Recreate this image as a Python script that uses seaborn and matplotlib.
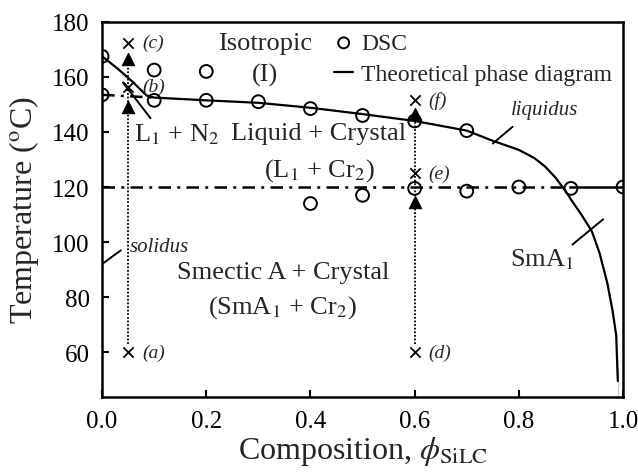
import matplotlib
matplotlib.use("Agg")
import matplotlib.pyplot as plt
import seaborn as sns
import numpy as np

# DSC measurements
dsc_x = [0.0, 0.0, 0.1, 0.1, 0.2, 0.2, 0.3, 0.4, 0.4, 0.5, 0.5, 0.6, 0.6, 0.7, 0.7, 0.8, 0.9, 1.0]
dsc_T = [167.5, 153.5, 162.5, 151.5, 162.0, 151.5, 151.0, 148.5, 114.0, 146.0, 117.0, 144.0, 119.5,
         140.5, 118.5, 120.0, 119.5, 120.0]

# theoretical liquidus / SmA boundary
liq_x = [0.0, 0.03, 0.06, 0.085, 0.1, 0.2, 0.3, 0.4, 0.5, 0.6, 0.7, 0.75, 0.8, 0.83, 0.85, 0.87,
         0.89, 0.9, 0.92, 0.94, 0.955, 0.97, 0.98, 0.987, 0.99, 0.99]
liq_T = [167.5, 163.0, 158.0, 153.3, 152.5, 151.5, 150.6, 148.8, 146.5, 144.0, 140.5, 136.8,
         133.5, 130.5, 127.5, 123.5, 118.5, 115.5, 110.0, 104.0, 96.0, 85.0, 75.0, 66.0, 55.0, 44.0]
spin_x = [0.04, 0.093]
spin_T = [158.0, 145.0]
# invariant lines
nem_x = [0.0, 0.1]
nem_T = [153.5, 152.5]
solid_x = [0.0, 0.9]
solid_T = [120.0, 120.0]
sma_x = [0.9, 1.0]
sma_T = [120.0, 120.0]

# quench paths
path_x = [0.05, 0.6]
path_lo = [63.0, 63.0]
path_hi = [166.0, 146.0]
tri_x = [0.05, 0.05, 0.6, 0.6]
tri_T = [166.5, 149.0, 146.5, 114.5]
cross_x = [0.05, 0.05, 0.05, 0.6, 0.6, 0.6]
cross_T = [172.5, 156.5, 60.0, 151.5, 125.0, 60.0]
cross_lab = ["(c)", "(b)", "(a)", "(f)", "(e)", "(d)"]

sns.set_style("ticks")
plt.rcParams["font.family"] = ["Liberation Serif", "DejaVu Serif"]
plt.rcParams["mathtext.fontset"] = "stix"

fig = plt.figure(figsize=(6.38, 4.77), dpi=100)
ax = fig.add_axes([0.16, 0.1656, 0.8165, 0.7864])

sns.scatterplot(x=dsc_x, y=dsc_T, marker="o", s=85, fc="none", ec="black", linewidth=1.4,
                label="DSC", ax=ax, zorder=4)
sns.lineplot(x=liq_x, y=liq_T, sort=False, color="black", lw=1.6,
             label="Theoretical phase diagram", ax=ax, zorder=3)
sns.lineplot(x=spin_x, y=spin_T, sort=False, color="black", lw=1.4, ax=ax)
for xs, ts in [(nem_x, nem_T), (solid_x, solid_T)]:
    ax.plot(xs, ts, color="black", lw=1.8, dashes=(5, 2.5, 1.2, 2.5))
sns.lineplot(x=sma_x, y=sma_T, sort=False, color="black", lw=1.8, ax=ax)

for px, lo, hi in zip(path_x, path_lo, path_hi):
    ax.plot([px, px], [lo, hi], color="black", lw=1.3, ls=(0, (1, 1)))
sns.scatterplot(x=tri_x, y=tri_T, marker="^", s=80, color="black", ec="black", ax=ax,
                legend=False, zorder=5)
sns.scatterplot(x=cross_x, y=cross_T, marker="x", s=55, color="black", linewidth=1.3, ax=ax,
                legend=False, zorder=5)
for cx, ct, lab in zip(cross_x, cross_T, cross_lab):
    ax.text(cx + 0.027, ct, lab, style="italic", fontsize=14, va="center", ha="left")

# region labels
fs = 19
ax.text(0.313, 172.5, "Isotropic", fontsize=fs, ha="center", va="center")
ax.text(0.313, 161, "(I)", fontsize=fs, ha="center", va="center")
ax.text(0.143, 139.5, "L$_1$ + N$_2$", fontsize=fs, ha="center", va="center")
ax.text(0.415, 139.5, "Liquid + Crystal", fontsize=fs, ha="center", va="center")
ax.text(0.417, 126.5, "(L$_1$ + Cr$_2$)", fontsize=fs, ha="center", va="center")
ax.text(0.347, 89.0, "Smectic A + Crystal", fontsize=fs, ha="center", va="center")
ax.text(0.347, 76.5, "(SmA$_1$ + Cr$_2$)", fontsize=fs, ha="center", va="center")
ax.text(0.845, 94.0, "SmA$_1$", fontsize=fs, ha="center", va="center")
ax.text(0.85, 148.0, "liquidus", style="italic", fontsize=15, ha="center", va="center")
ax.text(0.054, 98.5, "solidus", style="italic", fontsize=15, ha="left", va="center")
ax.plot([0.75, 0.788], [135.8, 141.9], color="black", lw=1.4)
ax.plot([0.0, 0.036], [92.0, 97.0], color="black", lw=1.4)
ax.plot([0.903, 0.962], [99.1, 108.3], color="black", lw=1.4)

ax.set_xlim(0, 1.0)
ax.set_ylim(43.7, 180)
ax.set_xticks([0.0, 0.2, 0.4, 0.6, 0.8, 1.0])
ax.set_xticklabels(["0.0", "0.2", "0.4", "0.6", "0.8", "1.0"])
ax.set_yticks([60, 80, 100, 120, 140, 160, 180])
ax.tick_params(direction="in", length=5, width=1.5, labelsize=18, pad=9, colors="black")
for sp in ax.spines.values():
    sp.set_linewidth(1.8)
    sp.set_color("black")
ax.set_xlabel(r"Composition, $\phi_{\rm SiLC}$", fontsize=23, labelpad=2)
ax.set_ylabel(r"Temperature ($^{\rm o}$C)", fontsize=23, labelpad=8)

ax.legend(loc="upper right", bbox_to_anchor=(1.0, 1.0), frameon=False, fontsize=17,
          handlelength=0.8, handletextpad=0.35, borderaxespad=0.0, borderpad=0.45,
          labelspacing=0.4, markerscale=0.85)

fig.savefig("out.png", dpi=100)
